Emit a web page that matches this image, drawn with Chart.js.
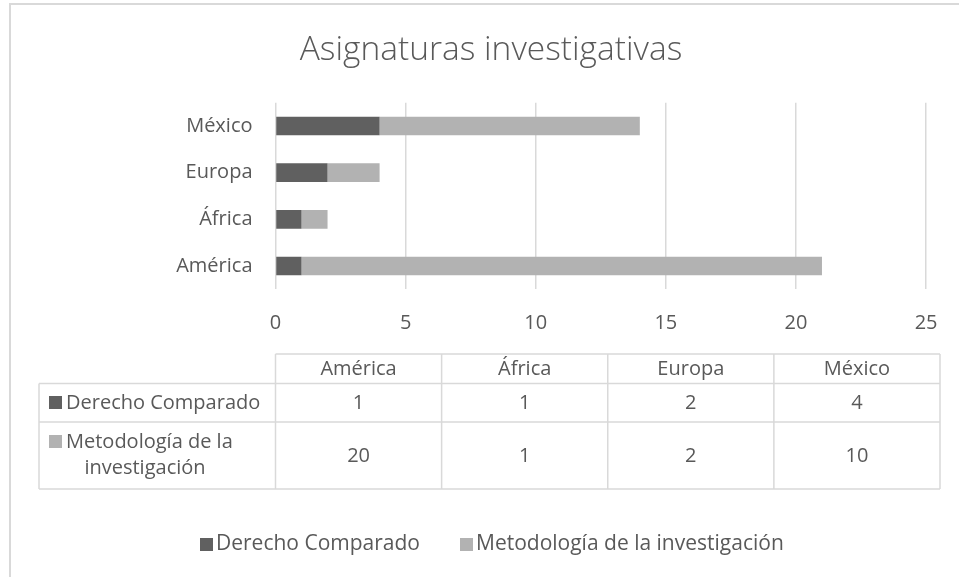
<!DOCTYPE html>
<html><head><meta charset="utf-8">
<script src="https://cdn.jsdelivr.net/npm/chart.js@4.4.1/dist/chart.umd.min.js"></script>
<style>html,body{margin:0;padding:0;background:#fff;}canvas{display:block;}</style>
</head><body>
<canvas id="c" width="959" height="577"></canvas>
<script>
const categories = ['América', 'África', 'Europa', 'México'];
const derechoComparado = [1, 1, 2, 4];
const metodologia = [20, 1, 2, 10];
const seriesNames = ['Derecho Comparado', 'Metodología de la investigación'];
const seriesLabelLines = [['Derecho Comparado'], ['Metodología de la', 'investigación']];
const xTicks = [0, 5, 10, 15, 20, 25];
const titleText = 'Asignaturas investigativas';

const TEXT = '#595959';
const GRID = '#d9d9d9';
const COLORS = ['#606060', '#b2b2b2'];
const FONT = '"Open Sans", "Noto Sans", sans-serif';
const seriesData = [derechoComparado, metodologia];

const extrasPlugin = {
  id: 'extras',
  afterDraw(chart) {
    const c = chart.ctx;
    const area = chart.chartArea;
    c.save();
    // outer frame
    c.strokeStyle = GRID; c.lineWidth = 2;
    c.beginPath(); c.moveTo(10, 577); c.lineTo(10, 4); c.lineTo(959, 4); c.stroke();
    // title
    c.fillStyle = TEXT;
    c.font = '300 33.5px ' + FONT;
    c.textAlign = 'center'; c.textBaseline = 'middle';
    c.fillText(titleText, 491, 50);

    // data table
    const tLeft = 39, cLeft = area.left, tRight = 940;
    const colW = (tRight - cLeft) / categories.length;
    const yHead = 354, yR1 = 383.5, yR2 = 422, yEnd = 489;
    c.strokeStyle = GRID; c.lineWidth = 1.5;
    c.beginPath();
    c.moveTo(cLeft, yHead); c.lineTo(tRight, yHead);
    [yR1, yR2, yEnd].forEach(y => { c.moveTo(tLeft, y); c.lineTo(tRight, y); });
    c.moveTo(tLeft, yR1); c.lineTo(tLeft, yEnd);
    for (let i = 0; i <= categories.length; i++) {
      const x = cLeft + i * colW;
      c.moveTo(x, yHead); c.lineTo(x, yEnd);
    }
    c.stroke();

    c.font = '20px ' + FONT;
    c.fillStyle = TEXT; c.textAlign = 'center'; c.textBaseline = 'middle';
    categories.forEach((cat, i) => c.fillText(cat, cLeft + (i + 0.5) * colW, 369));
    const rowCenters = [403.5, 456];
    seriesData.forEach((arr, r) => {
      arr.forEach((v, i) => c.fillText(String(v), cLeft + (i + 0.5) * colW, rowCenters[r]));
    });
    // row headers
    const sqY = [396, 435];
    const lineY = [[403.5], [442, 468.5]];
    seriesLabelLines.forEach((lines, r) => {
      c.fillStyle = COLORS[r];
      c.fillRect(49, sqY[r], 13, 13);
      c.fillStyle = TEXT;
      c.textAlign = 'left';
      c.fillText(lines[0], 66, lineY[r][0]);
      if (lines[1]) { c.textAlign = 'center'; c.fillText(lines[1], 145, lineY[r][1]); }
    });

    // legend
    c.font = '21px ' + FONT;
    const legX = [200, 460];
    seriesNames.forEach((name, i) => {
      c.fillStyle = COLORS[i];
      c.fillRect(legX[i], 538, 13, 13);
      c.fillStyle = TEXT; c.textAlign = 'left';
      c.fillText(name, legX[i] + 16, 544.5);
    });
    c.restore();
  }
};

new Chart(document.getElementById('c').getContext('2d'), {
  type: 'bar',
  data: {
    labels: categories,
    datasets: [
      { label: seriesNames[0], data: derechoComparado, backgroundColor: COLORS[0], barPercentage: 0.4, categoryPercentage: 1 },
      { label: seriesNames[1], data: metodologia, backgroundColor: COLORS[1], barPercentage: 0.4, categoryPercentage: 1 }
    ]
  },
  options: {
    responsive: false, animation: false, indexAxis: 'y',
    layout: { padding: { left: 0, right: 28.5, top: 102.7, bottom: 237.7 } },
    plugins: { legend: { display: false }, tooltip: { enabled: false }, title: { display: false } },
    scales: {
      x: {
        stacked: true, min: 0, max: 25,
        afterFit: s => { s.height = 50; },
        afterBuildTicks: s => { s.ticks = xTicks.map(v => ({ value: v })); },
        grid: { color: GRID, lineWidth: 1.5, drawTicks: false },
        border: { display: false },
        ticks: { color: TEXT, font: { family: FONT, size: 20 }, padding: 21.5, maxRotation: 0 }
      },
      y: {
        stacked: true, reverse: true,
        afterFit: s => { s.width = 275.5; },
        grid: { display: false, drawTicks: false },
        border: { display: false },
        ticks: { color: TEXT, font: { family: FONT, size: 20 }, padding: 23 }
      }
    }
  },
  plugins: [extrasPlugin]
});
</script></body></html>
